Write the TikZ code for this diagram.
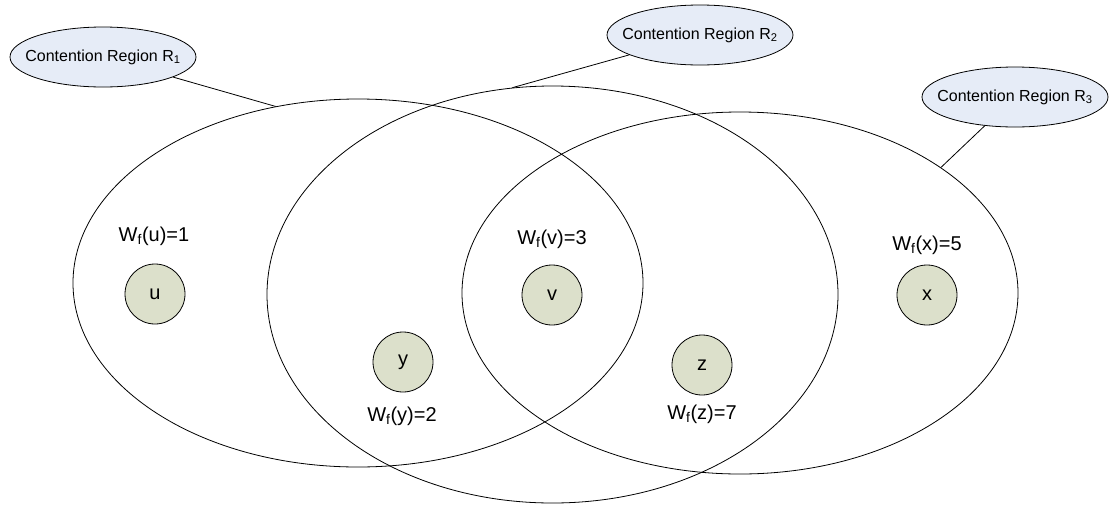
\documentclass[tikz,border=0pt]{standalone}
\usepackage{fontspec}
\setmainfont{Liberation Sans}
\usetikzlibrary{shapes.geometric}

\definecolor{vertexfill}{HTML}{DCE0CB}
\definecolor{calloutfill}{HTML}{E6ECF7}

\begin{document}
\begin{tikzpicture}[x=1pt,y=-1pt,line width=0.8pt,
    region/.style={draw,ellipse,inner sep=0pt},
    callout/.style={draw,ellipse,fill=calloutfill,minimum width=186pt,minimum height=60pt,
        inner xsep=-14pt,inner ysep=0pt,font=\fontsize{16}{18}\selectfont},
    vertex/.style={draw,circle,fill=vertexfill,minimum size=60pt,inner sep=0pt,
        font=\fontsize{20}{22}\selectfont},
    weight/.style={inner sep=0pt,font=\fontsize{20}{22}\selectfont}]

    \useasboundingbox (0,0) rectangle (1109,504);

    % contention regions
    \node[region,minimum width=570pt,minimum height=368pt] (reg1) at (358,283) {};
    \node[region,minimum width=571pt,minimum height=417pt] (reg2) at (552.5,294.5) {};
    \node[region,minimum width=556pt,minimum height=362pt] (reg3) at (740,293) {};

    % labels of the regions
    \node[callout] (lab1) at (103,57) {Contention Region R\textsubscript{1}};
    \node[callout] (lab2) at (700,35) {Contention Region R\textsubscript{2}};
    \node[callout] (lab3) at (1015,97) {Contention Region R\textsubscript{3}};
    \draw (lab1) -- (reg1.115);
    \draw (lab2) -- (reg2.101);
    \draw (lab3) -- (reg3.32);

    % vertices and their weights
    \node[vertex] (u) at (155,294) {u};
    \node[vertex] (y) at (403,362) {y};
    \node[vertex] (v) at (552,295) {v};
    \node[vertex] (z) at (702,365) {z};
    \node[vertex] (x) at (927,295) {x};

    \node[weight] (wu) at (154,236) {W\textsubscript{f}(u)=1};
    \node[weight] (wy) at (402,416) {W\textsubscript{f}(y)=2};
    \node[weight] (wv) at (552,239) {W\textsubscript{f}(v)=3};
    \node[weight] (wz) at (702,414) {W\textsubscript{f}(z)=7};
    \node[weight] (wx) at (927,245) {W\textsubscript{f}(x)=5};
\end{tikzpicture}
\end{document}
